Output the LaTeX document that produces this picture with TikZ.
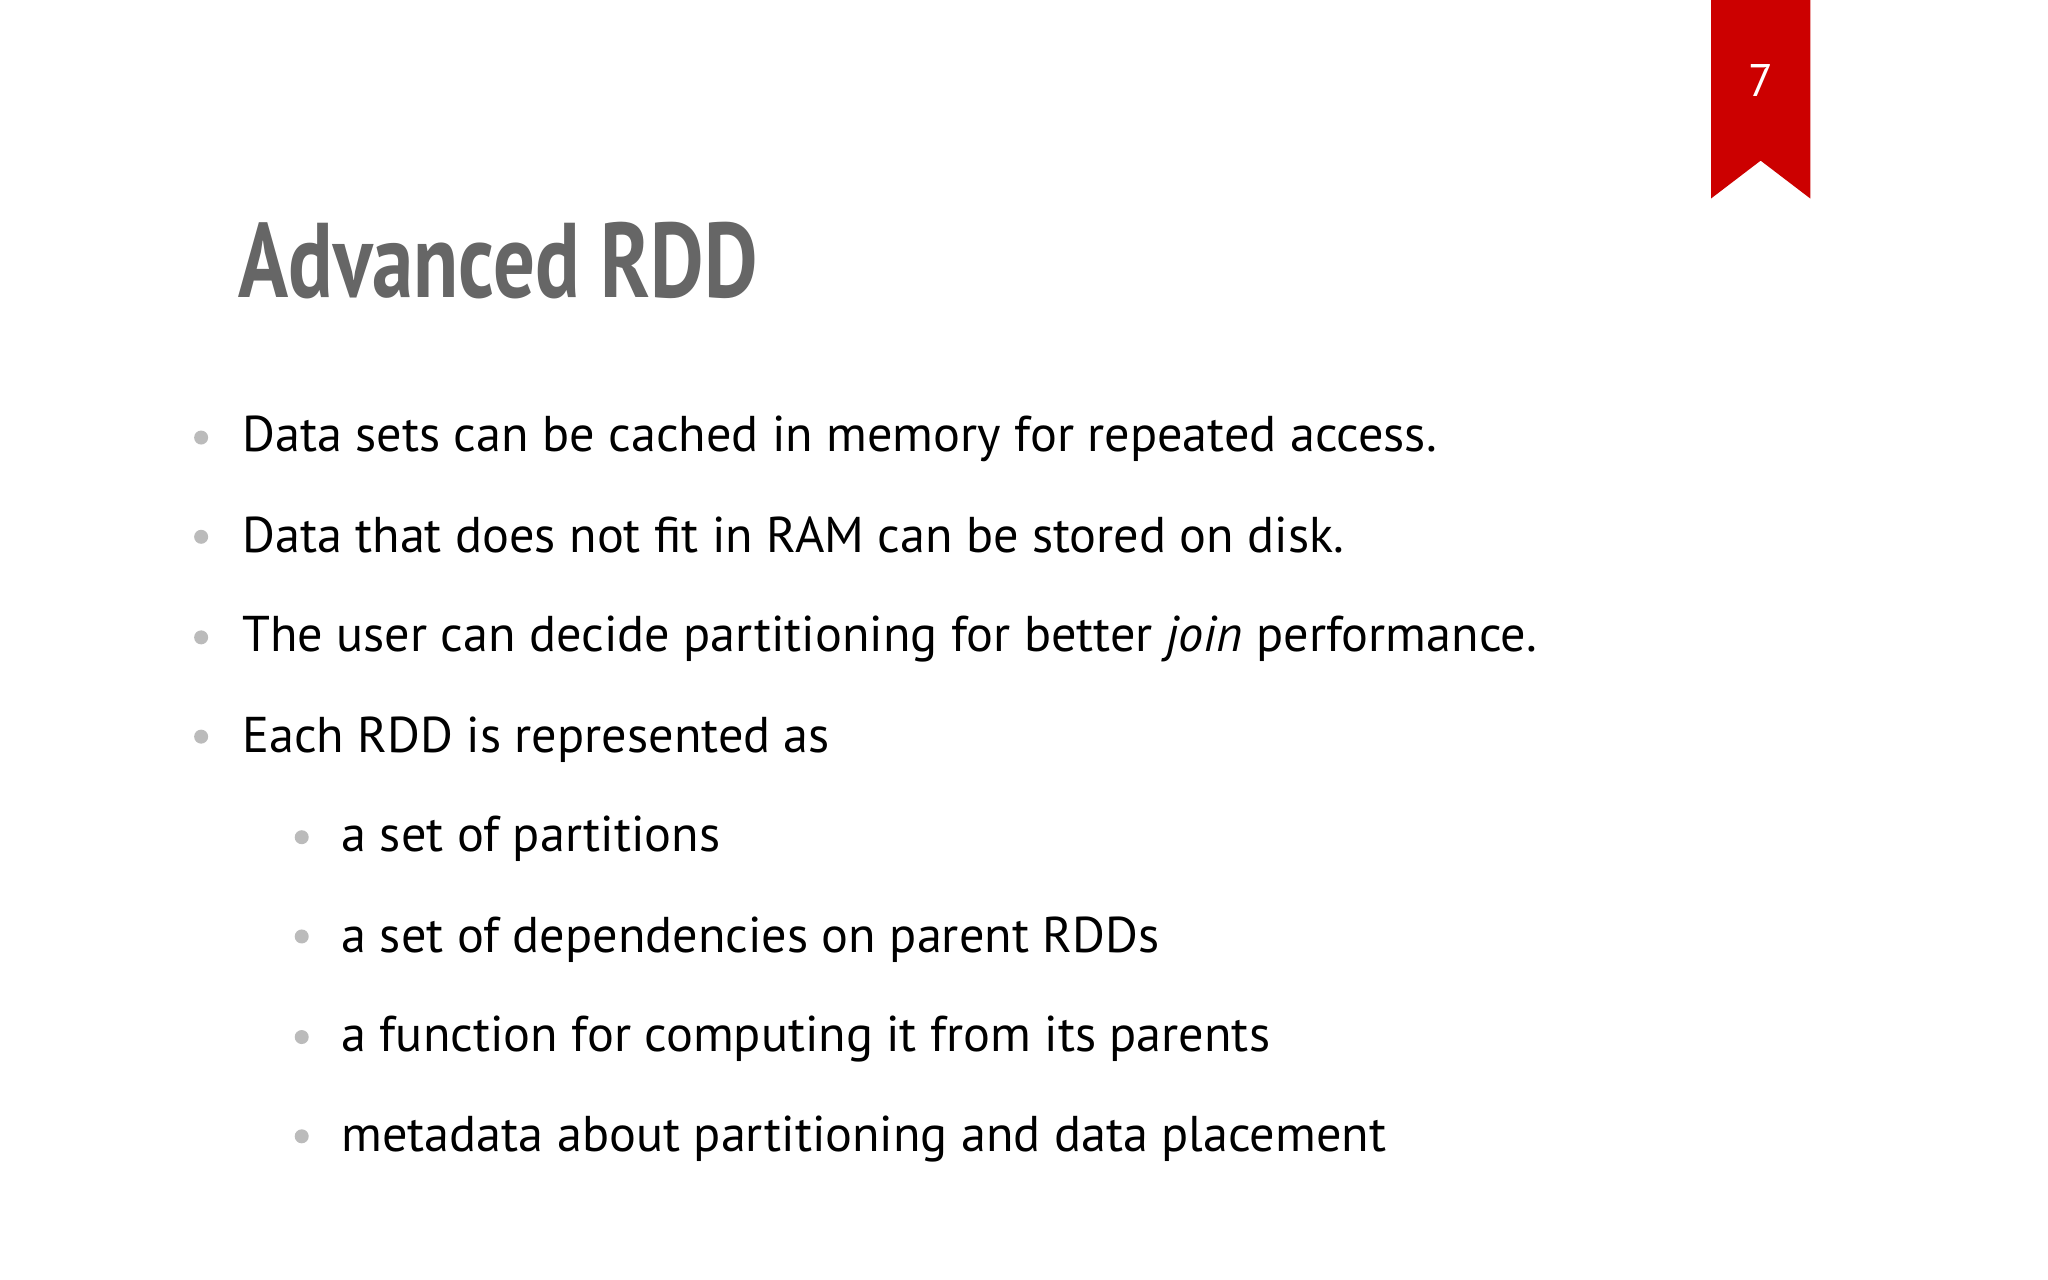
\documentclass[tikz,border=0pt]{standalone}
\usepackage{fontspec}
\setmainfont{PT Sans}
\newfontfamily\titlefont[FakeStretch=0.78]{PT Sans}
\definecolor{ribbon}{HTML}{CC0000}
\definecolor{titlegray}{HTML}{666666}
\definecolor{dotgray}{HTML}{BBBBBB}
\begin{document}
\begin{tikzpicture}[x=0.01306cm, y=-0.01306cm,
        item/.style = {anchor=base west, inner sep=0pt, font=\fontsize{14.3}{17}\selectfont},
        dot/.style = {circle, fill=dotgray, inner sep=0pt, minimum size=0.14cm}]
        \fill[white] (0,0) rectangle (1568,980);
        \useasboundingbox (0,0) rectangle (1568,980);

        \fill[ribbon] (1310,0) -- (1386,0) -- (1386,152) -- (1348,123) -- (1310,152) -- cycle;
        \node[white, font=\fontsize{13}{15}\selectfont] (num) at (1348,62) {7};

        \node[anchor=base west, inner sep=0pt, text=titlegray, font=\titlefont\bfseries\fontsize{30.2}{36}\selectfont] (title) at (182,228) {Advanced RDD};

        \node[item] (a) at (185,346) {Data sets can be cached in memory for repeated access.};
        \node[item] (b) at (185,423) {Data that does not fit in RAM can be stored on disk.};
        \node[item] (c) at (185,499) {The user can decide partitioning for better \emph{join} performance.};
        \node[item] (d) at (185,576) {Each RDD is represented as};
        \node[item] (e) at (261,652) {a set of partitions};
        \node[item] (f) at (261,729) {a set of dependencies on parent RDDs};
        \node[item] (g) at (261,805) {a function for computing it from its parents};
        \node[item] (h) at (261,882) {metadata about partitioning and data placement};

        \node[dot] (da) at (154,335) {};
        \node[dot] (db) at (154,411) {};
        \node[dot] (dc) at (154,488) {};
        \node[dot] (dd) at (154,564) {};
        \node[dot] (de) at (231,641) {};
        \node[dot] (df) at (231,717) {};
        \node[dot] (dg) at (231,794) {};
        \node[dot] (dh) at (231,870) {};
    \end{tikzpicture}
\end{document}
